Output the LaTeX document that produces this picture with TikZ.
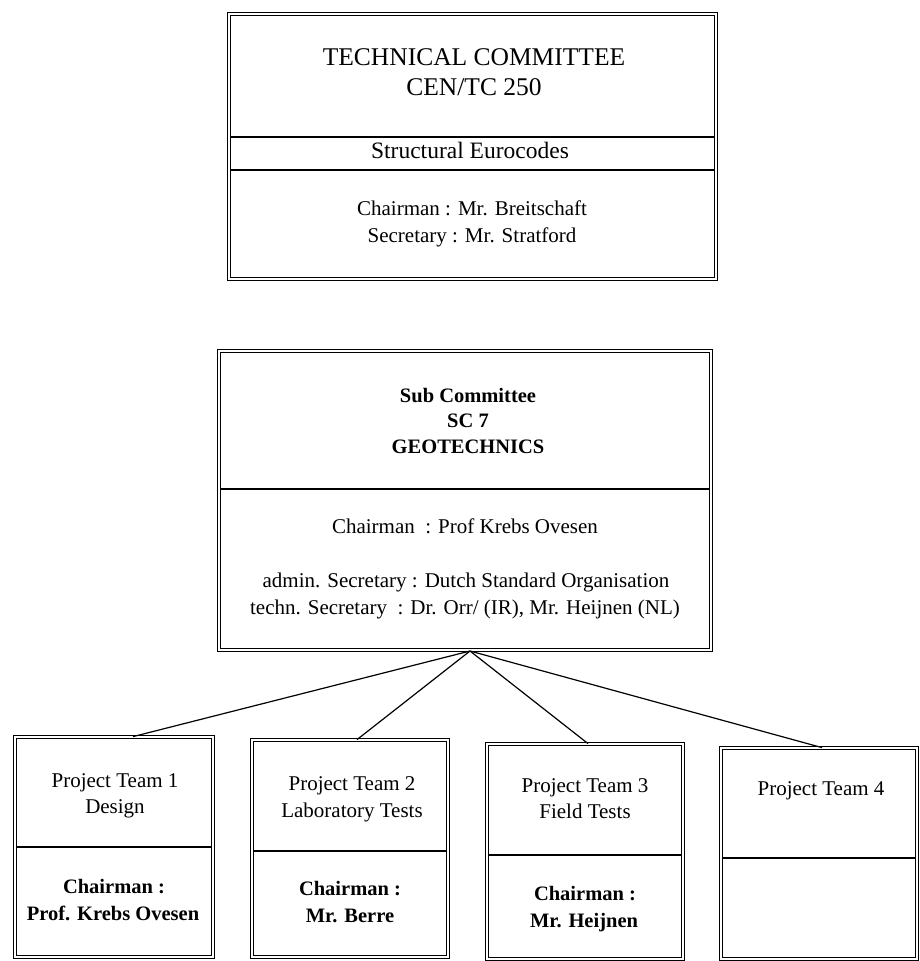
\documentclass[tikz,border=0pt]{standalone}
\usepackage{fontspec}
\setmainfont{Liberation Serif}
\usetikzlibrary{calc}
\begin{document}
\begin{tikzpicture}[x=1pt,y=-1pt,
  dbox/.style={draw, double, double distance=1.6pt, line width=0.8pt, inner sep=0pt, rectangle},
  divline/.style={line width=1.1pt},
  conn/.style={line width=1.2pt},
  txt/.style={anchor=mid, inner sep=0pt, yshift=-3.5pt},
  tfont/.style={txt, font=\fontsize{25.5}{29}\selectfont},
  mfont/.style={txt, font=\fontsize{23.5}{27}\selectfont},
  nfont/.style={txt, font=\fontsize{21}{25}\selectfont},
  bfont/.style={txt, font=\fontsize{20.5}{25}\selectfont\bfseries}]
\useasboundingbox[fill=white] (0,0) rectangle (920,961);

% Technical committee
\node[dbox, minimum width=487pt, minimum height=265pt] (tc) at (472.5,146.5) {};
\draw[divline] (230,137) -- (715,137);
\draw[divline] (230,170) -- (715,170);
\node[tfont] (tc1) at (474,60) {TECHNICAL COMMITTEE};
\node[tfont] (tc2) at (474,90) {CEN/TC 250};
\node[mfont] (tc3) at (470,153) {Structural Eurocodes};
\node[nfont] (tc4) at (472,210) {Chairman : Mr. Breitschaft};
\node[nfont] (tc5) at (472,237) {Secretary : Mr. Stratford};

% Sub committee
\node[dbox, minimum width=492pt, minimum height=299pt] (sc) at (465,500.5) {};
\draw[divline] (220,489) -- (710,489);
\node[bfont] (sc1) at (468,397) {Sub Committee};
\node[bfont] (sc2) at (468,422) {SC 7};
\node[bfont] (sc3) at (468,448) {GEOTECHNICS};
\node[nfont] (sc4) at (465,528) {Chairman \ : Prof Krebs Ovesen};
\node[nfont] (sc5) at (466,582) {admin. Secretary : Dutch Standard Organisation};
\node[nfont] (sc6) at (465,609) {techn. Secretary \ : Dr. Orr/ (IR), Mr. Heijnen (NL)};

% Project teams
\node[dbox, minimum width=198pt, minimum height=220pt] (pt1) at (114,847) {};
\draw[divline] (16,847) -- (212,847);
\node[nfont] (p11) at (115,782) {Project Team 1};
\node[nfont] (p12) at (115,808) {Design};
\node[bfont] (p13) at (114,888) {Chairman :};
\node[bfont] (p14) at (113,915) {Prof. Krebs Ovesen};

\node[dbox, minimum width=196pt, minimum height=217pt] (pt2) at (350,848.5) {};
\draw[divline] (253,851) -- (447,851);
\node[nfont] (p21) at (352,785) {Project Team 2};
\node[nfont] (p22) at (352,812) {Laboratory Tests};
\node[bfont] (p23) at (350,890) {Chairman :};
\node[bfont] (p24) at (350,917) {Mr. Berre};

\node[dbox, minimum width=196pt, minimum height=215pt] (pt3) at (585,851.5) {};
\draw[divline] (488,855) -- (682,855);
\node[nfont] (p31) at (585,787) {Project Team 3};
\node[nfont] (p32) at (585,813) {Field Tests};
\node[bfont] (p33) at (585,895) {Chairman :};
\node[bfont] (p34) at (584,922) {Mr. Heijnen};

\node[dbox, minimum width=196pt, minimum height=211pt] (pt4) at (819,853.5) {};
\draw[divline] (722,858) -- (916,858);
\node[nfont] (p41) at (821,790) {Project Team 4};

% Connectors
\coordinate (apex) at (470,651);
\draw[conn] (apex) -- ($(pt1.north)+(19,0)$);
\draw[conn] (apex) -- ($(pt2.north)+(7,0)$);
\draw[conn] (apex) -- ($(pt3.north)+(3,0)$);
\draw[conn] (apex) -- ($(pt4.north)+(3,0)$);
\end{tikzpicture}
\end{document}
